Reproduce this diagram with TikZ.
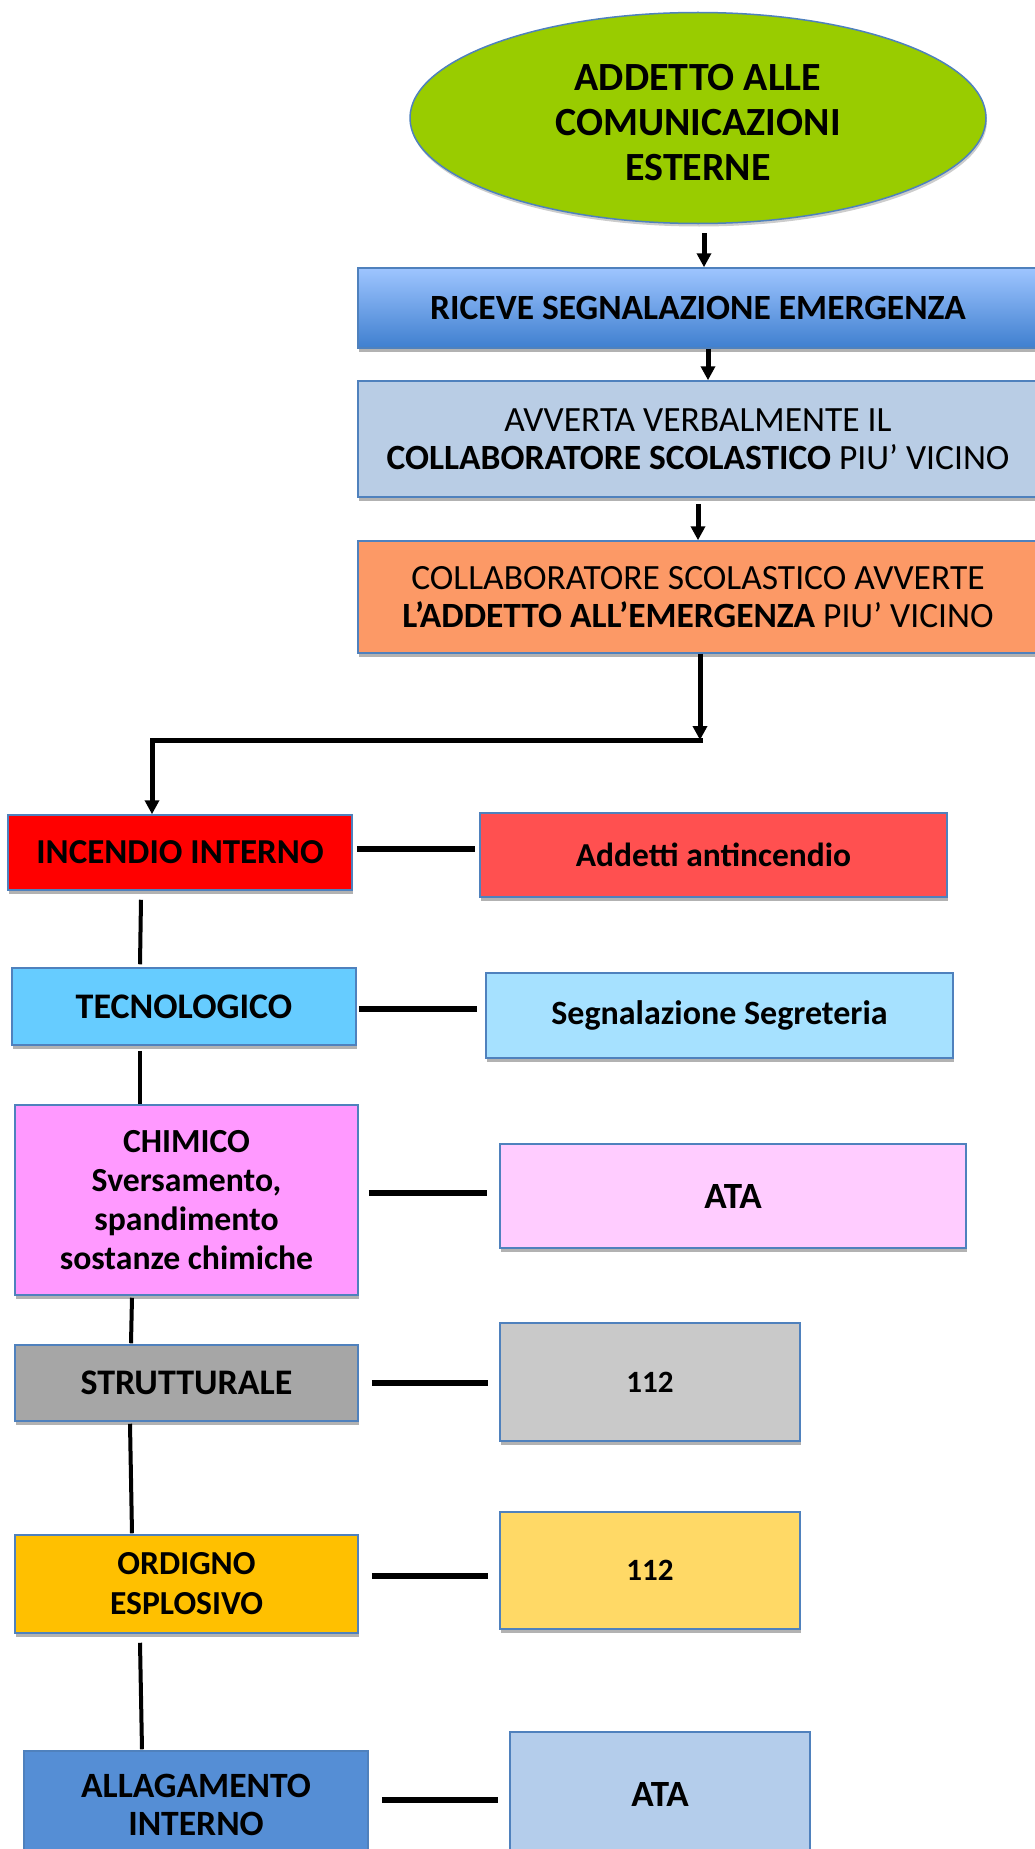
\documentclass[tikz,border=0pt]{standalone}
\usepackage{fontspec}
\setmainfont{Carlito}
\usetikzlibrary{shapes.geometric,arrows.meta,calc,shadows}
\definecolor{bordc}{HTML}{4F81BD}
\definecolor{cEll}{HTML}{99CC00}
\definecolor{cRicT}{HTML}{9EC5FF}
\definecolor{cRicB}{HTML}{3F7FCF}
\definecolor{cAvv}{HTML}{B9CDE5}
\definecolor{cCol}{HTML}{FC9966}
\definecolor{cInc}{HTML}{FF0000}
\definecolor{cAdd}{HTML}{FF5050}
\definecolor{cTec}{HTML}{66CCFF}
\definecolor{cSeg}{HTML}{A6E1FF}
\definecolor{cChi}{HTML}{FF99FF}
\definecolor{cAtaA}{HTML}{FFCCFF}
\definecolor{cStr}{HTML}{A6A6A6}
\definecolor{cNa}{HTML}{C9C9C9}
\definecolor{cOrd}{HTML}{FFC000}
\definecolor{cNb}{HTML}{FFD966}
\definecolor{cAll}{HTML}{558ED5}
\definecolor{cAtaB}{HTML}{B4CDEB}
\begin{document}
\begin{tikzpicture}[x=1pt,y=-1pt,
  boxshadow/.style={drop shadow={shadow xshift=1pt,shadow yshift=-4pt,opacity=0.3,fill=black}},
  box/.style={rectangle,draw=bordc,line width=1.5pt,inner sep=0pt,align=center,
    font=\fontsize{35.5}{39}\selectfont\bfseries,boxshadow},
  fsb/.style={font=\fontsize{#1}{39}\selectfont\bfseries},
  plainbox/.style={box,font=\fontsize{35.5}{38.5}\selectfont},
  arr/.style={line width=5pt,-{Triangle[width=14pt,length=14pt]}},
  vline/.style={line width=4pt},
  hline/.style={line width=6pt}]
\useasboundingbox (0,0) rectangle (1034,1849);
\fill[white] (0,0) rectangle (1034,1849);

% top ellipse
\node[ellipse,draw=bordc,line width=1.5pt,fill=cEll,inner sep=0pt,
  minimum width=576pt,minimum height=211pt,
  drop shadow={shadow xshift=1pt,shadow yshift=-3pt,opacity=0.2,fill=black}] (ell) at (698,118) {};
\node[align=center,inner sep=0pt,font=\fontsize{40}{45}\selectfont\bfseries] (ellt)
  at ([yshift=-5pt]ell.center) {ADDETTO ALLE\\COMUNICAZIONI\\ESTERNE};

\node[box,top color=cRicT,bottom color=cRicB,minimum width=680pt,minimum height=80pt] (ric) at (698,308)
  {RICEVE SEGNALAZIONE EMERGENZA};
\node[plainbox,fill=cAvv,minimum width=680pt,minimum height=116pt] (avv) at (698,439)
  {AVVERTA VERBALMENTE IL\\\textbf{COLLABORATORE SCOLASTICO} PIU’ VICINO};
\node[plainbox,fill=cCol,minimum width=680pt,minimum height=112pt] (col) at (698,597)
  {COLLABORATORE SCOLASTICO AVVERTE\\\textbf{L’ADDETTO ALL’EMERGENZA} PIU’ VICINO};

% left column
\node[box,fsb=35,fill=cInc,minimum width=344pt,minimum height=75pt] (inc) at (180,852.5) {INCENDIO INTERNO};
\node[box,fsb=36,fill=cTec,minimum width=344pt,minimum height=77pt] (tec) at (184,1006.5) {TECNOLOGICO};
\node[box,fsb=33.7,fill=cChi,minimum width=343pt,minimum height=190pt] (chi) at (186.5,1200)
  {CHIMICO\\Sversamento,\\spandimento\\sostanze chimiche};
\node[box,fsb=36,fill=cStr,minimum width=343pt,minimum height=76pt] (str) at (186.5,1383) {STRUTTURALE};
\node[box,font=\fontsize{33.6}{40}\selectfont\bfseries,fill=cOrd,minimum width=343pt,minimum height=98pt] (ord) at (186.5,1584) {ORDIGNO\\ESPLOSIVO};
\node[box,font=\fontsize{35.6}{38}\selectfont\bfseries,fill=cAll,minimum width=344pt,minimum height=107pt] (all) at (196,1804.5) {ALLAGAMENTO\\INTERNO};

% right column
\node[box,fsb=33.5,fill=cAdd,minimum width=467pt,minimum height=84pt] (add) at (713.5,855) {Addetti antincendio};
\node[box,fsb=34,fill=cSeg,minimum width=467pt,minimum height=85pt] (seg) at (719.5,1015.5) {Segnalazione Segreteria};
\node[box,fsb=37,fill=cAtaA,minimum width=466pt,minimum height=104pt] (ataA) at (733,1196) {ATA};
\node[box,fsb=31,fill=cNa,minimum width=300pt,minimum height=118pt] (na) at (650,1382) {112};
\node[box,fsb=31,fill=cNb,minimum width=300pt,minimum height=117pt] (nb) at (650,1570.5) {112};
\node[box,fsb=37,fill=cAtaB,minimum width=300pt,minimum height=124pt] (ataB) at (660,1794) {ATA};

% arrows in the top chain
\draw[arr,shorten <=9pt] ([xshift=6pt]ell.south) -- ([xshift=6pt]ric.north);
\draw[arr] ([xshift=10pt]ric.south) -- ([xshift=10pt]avv.north);
\draw[arr,shorten <=6pt] (avv.south) -- (col.north);
\coordinate (j1) at (700,740);
\coordinate (j2) at (152,740);
\draw[arr] ([xshift=2pt]col.south) -- (j1);
\draw[line width=5pt,line cap=rect] (j1) -- (j2);
\draw[arr] (j2) -- (j2 |- inc.north);

% vertical connectors of the left column
\draw[vline] ($(inc.south)+(-39,9)$) -- ($(tec.north)+(-44,-3)$);
\draw[vline] ($(tec.south)+(-44,5)$) -- ($(chi.north)+(-46.5,0)$);
\draw[vline] ($(chi.south)+(-54.5,2)$) -- ($(str.north)+(-55.5,-1)$);
\draw[vline] ($(str.south)+(-56.5,2)$) -- ($(ord.north)+(-54.5,-1)$);
\draw[vline] ($(ord.south)+(-46.5,9)$) -- ($(all.north)+(-54,-1)$);

% horizontal connectors
\draw[hline] ($(inc.east)+(4,-3.5)$) -- ($(inc.east -| add.west)+(-4,-3.5)$);
\draw[hline] ($(tec.east)+(2,2.5)$) -- ($(tec.east -| seg.west)+(-8,2.5)$);
\draw[hline] ($(chi.east)+(10,-7)$) -- ($(chi.east -| ataA.west)+(-12,-7)$);
\draw[hline] ($(str.east)+(13,0)$) -- ($(str.east -| na.west)+(-11,0)$);
\draw[hline] ($(ord.east)+(13,-8)$) -- ($(ord.east -| nb.west)+(-11,-8)$);
\draw[hline] ($(all.east)+(13,-4.5)$) -- ($(all.east -| ataB.west)+(-11,-4.5)$);
\end{tikzpicture}
\end{document}
